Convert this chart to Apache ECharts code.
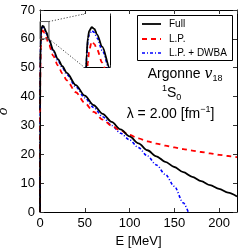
<!DOCTYPE html>
<html><head><meta charset="utf-8">
<script src="https://cdn.jsdelivr.net/npm/echarts@6/dist/echarts.min.js"></script>
<style>html,body{margin:0;padding:0;background:#fff}#c{width:241px;height:250px}</style>
</head><body><div id="c"></div>
<script>
// Energies (MeV)
const energy = [0, 0.1, 0.3, 0.6, 1, 1.5, 2, 3, 4, 5, 7, 10, 15, 20, 25, 30, 40, 50, 60, 70, 80, 90, 100, 110, 120, 130, 140, 150, 160, 170, 180, 190, 200, 210, 220];
// Phase shifts (deg)
const full = [0, 35, 50, 57, 61.5, 63.3, 64.1, 64.5, 64.3, 63.7, 62.3, 59.8, 56, 53, 50.5, 48.2, 44, 40.3, 37, 34, 31.2, 28.6, 26.2, 23.8, 21.4, 19.3, 17.4, 15.6, 13.8, 12.2, 10.7, 9.3, 8.0, 6.7, 5.4];
const lp = [0, 30, 45, 53, 58, 60.5, 61.9, 62.9, 62.6, 62.0, 60.5, 57.8, 54, 50.8, 48, 45.6, 41.5, 37.8, 34.7, 32, 29.9, 28.2, 26.7, 25.5, 24.5, 23.7, 23.0, 22.4, 21.8, 21.3, 20.8, 20.3, 19.8, 19.4, 19.0];
const energyDwba = [0, 0.1, 0.3, 0.6, 1, 1.5, 2, 3, 4, 5, 7, 10, 15, 20, 25, 30, 40, 50, 60, 70, 80, 90, 100, 110, 120, 130, 140, 150, 160, 165.5];
const lpDwba = [0, 34, 49, 56.5, 61, 62.9, 63.7, 64.1, 63.9, 63.3, 61.9, 59.5, 55.5, 52.5, 50, 47.6, 43.4, 39.6, 36.2, 33, 30, 27.3, 25.0, 22.3, 19.4, 16.3, 13.0, 8.9, 3.2, 0];
const seriesNames = ['Full', 'L.P.', 'L.P. + DWBA'];
const xTicks = [0, 50, 100, 150, 200];
const yTicks = [0, 10, 20, 30, 40, 50, 60, 70];
const insetX = [0, 10];
const insetY = [60, 66];

const FONT = 'Liberation Sans';
const chart = echarts.init(document.getElementById('c'), null, {renderer: 'canvas'});
const pairs = (xs, ys) => xs.map((x, i) => [x, ys[i]]);
const styles = [
  {color: '#000', width: 1.8, type: 'solid'},
  {color: '#ff0000', width: 1.8, type: [5, 4]},
  {color: '#0000ff', width: 1.6, type: [3, 2, 1, 2]}
];
const datasets = [pairs(energy, full), pairs(energy, lp), pairs(energyDwba, lpDwba)];

function mkSeries(i, grid) {
  return {
    name: seriesNames[i], type: 'line', data: datasets[i],
    xAxisIndex: grid === 0 ? 0 : 2, yAxisIndex: grid === 0 ? 0 : 2,
    showSymbol: false, symbol: 'none', smooth: 0.3, smoothMonotone: 'x',
    lineStyle: styles[i], itemStyle: {color: styles[i].color},
    clip: true, z: 3 - i + (grid ? 10 : 0), silent: true
  };
}
const axLine = {show: true, onZero: false, lineStyle: {color: '#000', width: 1}};
const tickIn = (len) => ({show: true, inside: true, length: len, lineStyle: {color: '#333', width: 1}});

const option = {
  animation: false,
  grid: [
    {left: 40, right: 4, top: 10, bottom: 38, containLabel: false, outerBoundsMode: 'none'},
    {left: 84, top: 14, width: 26, height: 53, z: 10, show: true, backgroundColor: '#fff', borderWidth: 0, containLabel: false, outerBoundsMode: 'none'}
  ],
  xAxis: [
    {gridIndex: 0, type: 'value', min: 0, max: 220, interval: 50, position: 'bottom',
      axisLine: axLine, axisTick: tickIn(4), splitLine: {show: false},
      axisLabel: {fontSize: 13, fontFamily: FONT, color: '#000', margin: 5, showMaxLabel: false,
        formatter: v => xTicks.includes(v) ? String(v) : ''},
      name: 'E [MeV]', nameLocation: 'middle', nameGap: 20,
      nameTextStyle: {fontSize: 13, fontFamily: FONT, color: '#000'}},
    {gridIndex: 0, type: 'value', min: 0, max: 220, interval: 50, position: 'top',
      axisLine: axLine, axisTick: tickIn(4), splitLine: {show: false}, axisLabel: {show: false}},
    {gridIndex: 1, type: 'value', min: insetX[0], max: insetX[1], interval: 2.5, position: 'bottom',
      axisLine: axLine, axisTick: tickIn(2), splitLine: {show: false}, axisLabel: {show: false}},
    {gridIndex: 1, type: 'value', min: insetX[0], max: insetX[1], interval: 2.5, position: 'top',
      axisLine: axLine, axisTick: tickIn(2), splitLine: {show: false}, axisLabel: {show: false}}
  ],
  yAxis: [
    {gridIndex: 0, type: 'value', min: 0, max: 70, interval: 10, position: 'left',
      axisLine: axLine, axisTick: tickIn(4), splitLine: {show: false},
      axisLabel: {fontSize: 13, fontFamily: FONT, color: '#000', margin: 5,
        formatter: v => yTicks.includes(v) ? String(v) : ''},
      name: 'δ', nameLocation: 'middle', nameGap: 21, nameRotate: 90,
      nameTextStyle: {fontSize: 13, fontFamily: 'DejaVu Serif', fontStyle: 'italic', color: '#000'}},
    {gridIndex: 0, type: 'value', min: 0, max: 70, interval: 10, position: 'right',
      axisLine: axLine, axisTick: tickIn(4), splitLine: {show: false}, axisLabel: {show: false}},
    {gridIndex: 1, type: 'value', min: insetY[0], max: insetY[1], interval: 2, position: 'left',
      axisLine: axLine, axisTick: tickIn(2), splitLine: {show: false}, axisLabel: {show: false}},
    {gridIndex: 1, type: 'value', min: insetY[0], max: insetY[1], interval: 2, position: 'right',
      axisLine: axLine, axisTick: tickIn(2), splitLine: {show: false}, axisLabel: {show: false}}
  ],
  series: [
    mkSeries(0, 0), mkSeries(1, 0), mkSeries(2, 0),
    {type: 'line', xAxisIndex: 0, yAxisIndex: 0, silent: true, symbol: 'none', showSymbol: false, z: 5,
      data: [[insetX[0], insetY[0]], [insetX[1], insetY[0]], [insetX[1], insetY[1]], [insetX[0], insetY[1]], [insetX[0], insetY[0]]],
      lineStyle: {color: '#555', width: 1}},
    mkSeries(0, 1), mkSeries(1, 1), mkSeries(2, 1)
  ]
};
chart.setOption(option);

const rich = {
  m: {fontSize: 14, fontFamily: FONT, color: '#000', lineHeight: 18},
  v: {fontSize: 14, fontFamily: 'DejaVu Serif', fontStyle: 'italic', color: '#000', lineHeight: 18},
  sub: {fontSize: 9, fontFamily: FONT, color: '#000', lineHeight: 9, verticalAlign: 'bottom'},
  sup: {fontSize: 9, fontFamily: FONT, color: '#000', lineHeight: 9, verticalAlign: 'top'}
};
const g = [];
function richTxt(text, x, y) {
  g.push({type: 'text', x: x, y: y, z: 30,
    style: {text: text, rich: rich, align: 'left', verticalAlign: 'top', fill: '#000', fontSize: 14, fontFamily: FONT}});
}
// Legend (drawn manually, matplotlib style)
g.push({type: 'rect', z: 25, shape: {x: 137.5, y: 15.5, width: 95, height: 45},
  style: {fill: '#fff', stroke: '#000', lineWidth: 1}});
[24, 39, 53].forEach((yy, i) => {
  g.push({type: 'line', z: 26, shape: {x1: 142, y1: yy, x2: 161, y2: yy},
    style: {stroke: styles[i].color, lineWidth: styles[i].width, lineDash: Array.isArray(styles[i].type) ? styles[i].type : null}});
  g.push({type: 'text', x: 169, y: yy, z: 27,
    style: {text: seriesNames[i], fontSize: 10, fontFamily: FONT, fill: '#000', align: 'left', verticalAlign: 'middle'}});
});
richTxt('{m|Argonne }{v|v}{sub|18}', 147.7, 65.2);
richTxt('{sup|1}{m|S}{sub|0}', 162, 84.5);
richTxt('{m|λ = 2.00 [fm}{sup|−1}{m|]}', 126.7, 105.5);

// connector lines between zoom box and inset
const a1 = chart.convertToPixel({xAxisIndex: 0, yAxisIndex: 0}, [insetX[1], insetY[1]]);
const a2 = chart.convertToPixel({xAxisIndex: 0, yAxisIndex: 0}, [insetX[1], insetY[0]]);
const b1 = chart.convertToPixel({xAxisIndex: 2, yAxisIndex: 2}, [insetX[0], insetY[1]]);
const b2 = chart.convertToPixel({xAxisIndex: 2, yAxisIndex: 2}, [insetX[0], insetY[0]]);
[[a1, b1], [a2, b2]].forEach(([p, q]) => g.push({type: 'line', z: 4,
  shape: {x1: p[0], y1: p[1], x2: q[0], y2: q[1]},
  style: {stroke: '#444', lineWidth: 1, lineDash: [1.2, 1.8]}}));
chart.setOption({graphic: g});
</script></body></html>
